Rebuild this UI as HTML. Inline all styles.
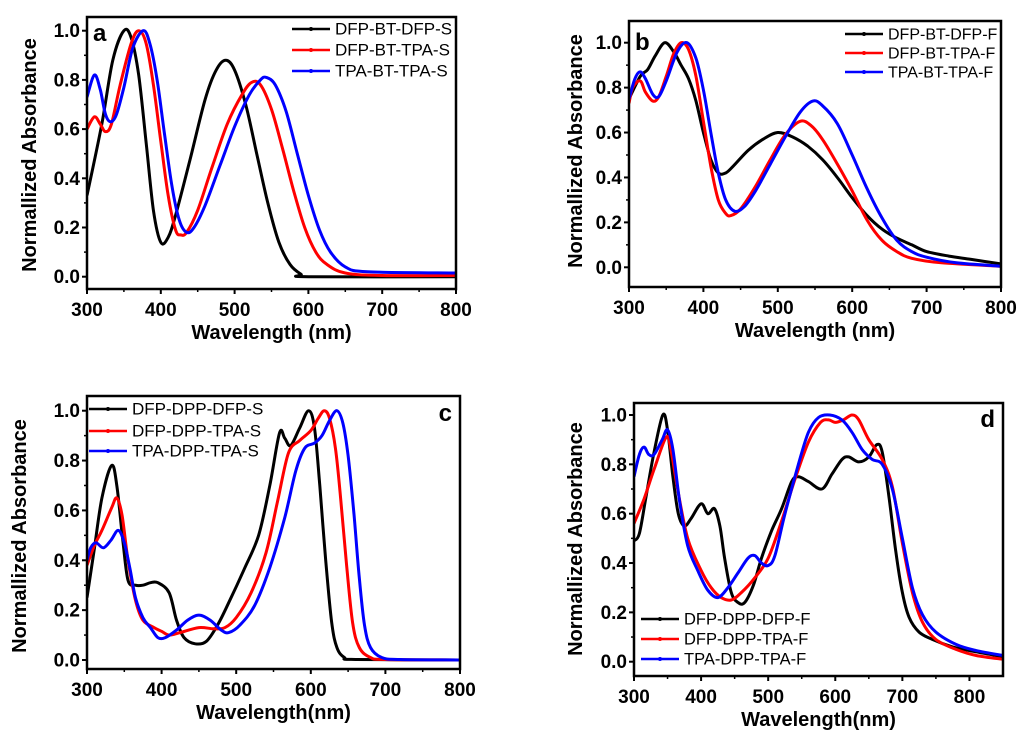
<!DOCTYPE html>
<html><head><meta charset="utf-8"><style>
html,body{margin:0;padding:0;background:#fff;}
svg{display:block;font-family:"Liberation Sans",Arial,sans-serif;}
</style></head><body>
<svg id="fig" width="1024" height="733" viewBox="0 0 1024 733" xmlns="http://www.w3.org/2000/svg"></svg>
<script>
// Panel a data
const aWl_k=[300,320,335,350,360,370,380,390,400,410,420,440,460,475,488,500,515,530,545,560,575,590,600,800];
const aVal_k=[0.33,0.62,0.88,1.0,0.97,0.82,0.55,0.27,0.14,0.16,0.25,0.48,0.72,0.84,0.88,0.84,0.70,0.50,0.30,0.14,0.05,0.01,0.0,0.0];
const aWl_r=[300,310,318,325,333,345,360,370,380,390,400,410,420,427,435,450,470,490,510,523,535,550,565,580,595,610,625,650,700,800];
const aVal_r=[0.60,0.65,0.62,0.59,0.62,0.78,0.95,1.0,0.95,0.78,0.55,0.33,0.19,0.17,0.18,0.27,0.45,0.62,0.74,0.79,0.78,0.68,0.52,0.35,0.20,0.10,0.05,0.015,0.005,0.005];
const aWl_b=[300,310,318,325,332,340,350,362,376,385,395,405,415,425,435,445,460,480,500,520,535,543,555,570,585,600,615,630,650,680,800];
const aVal_b=[0.73,0.82,0.76,0.66,0.63,0.66,0.77,0.93,1.0,0.95,0.80,0.58,0.37,0.23,0.18,0.20,0.29,0.45,0.61,0.74,0.80,0.81,0.78,0.67,0.50,0.33,0.19,0.10,0.04,0.02,0.015];
// Panel b data
const bWl_k=[300,315,325,335,348,360,370,380,390,400,410,420,430,440,460,480,500,520,540,560,580,600,620,640,660,680,700,730,760,800];
const bVal_k=[0.75,0.85,0.88,0.94,1.0,0.96,0.90,0.84,0.74,0.60,0.48,0.42,0.42,0.45,0.52,0.57,0.60,0.58,0.54,0.48,0.40,0.31,0.23,0.17,0.13,0.10,0.07,0.05,0.035,0.015];
const bWl_r=[300,305,315,322,332,340,350,360,370,380,390,400,410,420,430,437,450,470,490,510,530,545,560,580,600,620,640,660,680,720,800];
const bVal_r=[0.73,0.80,0.83,0.78,0.74,0.76,0.85,0.95,1.0,0.97,0.85,0.65,0.45,0.30,0.24,0.23,0.26,0.36,0.48,0.59,0.65,0.63,0.57,0.46,0.34,0.21,0.12,0.07,0.04,0.02,0.005];
const bWl_b=[300,308,315,322,332,340,350,365,378,390,400,410,420,430,442,455,470,490,510,530,547,560,580,600,620,640,660,680,700,740,800];
const bVal_b=[0.75,0.84,0.87,0.84,0.77,0.76,0.83,0.96,1.0,0.93,0.79,0.60,0.42,0.30,0.25,0.27,0.34,0.46,0.58,0.69,0.74,0.72,0.64,0.50,0.35,0.22,0.12,0.07,0.045,0.02,0.005];
// Panel c data
const cWl_k=[300,310,320,333,340,348,355,365,375,385,395,410,420,430,445,460,475,490,510,530,545,558,565,573,585,597,605,612,620,628,635,645,660,800];
const cVal_k=[0.25,0.45,0.65,0.78,0.70,0.48,0.32,0.30,0.30,0.31,0.31,0.27,0.16,0.09,0.065,0.075,0.14,0.23,0.36,0.50,0.70,0.91,0.89,0.86,0.93,1.0,0.93,0.70,0.40,0.15,0.05,0.01,0.002,0.0];
const cWl_r=[300,310,320,333,340,347,355,365,375,390,400,410,425,450,470,485,500,520,540,555,570,585,600,610,618,625,633,640,648,656,665,680,700,800];
const cVal_r=[0.38,0.46,0.52,0.61,0.65,0.58,0.40,0.24,0.16,0.13,0.115,0.10,0.11,0.13,0.125,0.13,0.17,0.27,0.43,0.63,0.83,0.88,0.92,0.97,1.0,0.97,0.85,0.65,0.38,0.15,0.05,0.01,0.002,0.0];
const cWl_b=[300,305,312,322,332,342,350,358,365,375,385,395,405,420,435,450,465,480,490,505,525,545,565,580,592,605,615,625,635,643,650,658,665,672,680,695,720,800];
const cVal_b=[0.40,0.45,0.47,0.45,0.48,0.52,0.47,0.36,0.25,0.17,0.13,0.09,0.09,0.12,0.16,0.18,0.16,0.12,0.11,0.14,0.22,0.37,0.57,0.76,0.85,0.87,0.90,0.96,1.0,0.95,0.82,0.58,0.33,0.14,0.05,0.01,0.002,0.0];
// Panel d data
const dWl_k=[300,308,318,330,343,350,358,366,375,385,400,410,420,428,435,445,455,465,478,490,505,520,535,545,560,580,595,610,620,635,650,662,670,680,690,700,710,725,745,775,810,850];
const dVal_k=[0.49,0.52,0.67,0.85,1.0,0.94,0.75,0.60,0.55,0.58,0.64,0.60,0.62,0.55,0.42,0.28,0.24,0.24,0.31,0.42,0.53,0.62,0.73,0.75,0.73,0.70,0.76,0.82,0.83,0.81,0.83,0.88,0.85,0.67,0.45,0.28,0.18,0.12,0.09,0.06,0.04,0.02];
const dWl_r=[300,315,330,348,355,365,380,400,415,430,445,460,480,500,520,540,560,578,590,600,612,625,635,650,670,685,700,715,730,750,780,810,850];
const dVal_r=[0.56,0.66,0.78,0.91,0.86,0.70,0.50,0.37,0.30,0.26,0.25,0.28,0.34,0.42,0.57,0.74,0.89,0.97,0.98,0.97,0.98,1.0,0.98,0.90,0.82,0.71,0.48,0.28,0.16,0.09,0.05,0.025,0.01];
const dWl_b=[300,308,315,322,330,342,350,358,368,380,395,410,425,440,455,470,480,490,500,510,525,545,560,575,592,610,625,640,655,670,685,700,715,730,750,780,810,850];
const dVal_b=[0.75,0.84,0.87,0.84,0.84,0.90,0.94,0.86,0.65,0.47,0.37,0.29,0.26,0.30,0.36,0.42,0.43,0.40,0.39,0.43,0.60,0.80,0.93,0.99,1.0,0.98,0.93,0.86,0.82,0.80,0.70,0.50,0.30,0.19,0.12,0.07,0.045,0.025];

const yTicks=["0.0","0.2","0.4","0.6","0.8","1.0"];
const xTicksA=["300","400","500","600","700","800"];
const xTicksD=["300","400","500","600","700","800"];
const legA=["DFP-BT-DFP-S","DFP-BT-TPA-S","TPA-BT-TPA-S"];
const legB=["DFP-BT-DFP-F","DFP-BT-TPA-F","TPA-BT-TPA-F"];
const legC=["DFP-DPP-DFP-S","DFP-DPP-TPA-S","TPA-DPP-TPA-S"];
const legD=["DFP-DPP-DFP-F","DFP-DPP-TPA-F","TPA-DPP-TPA-F"];

const NS="http://www.w3.org/2000/svg";
const svg=document.getElementById('fig');
const COLORS=["#000000","#ff0000","#0000ff"];
function mk(tag,attrs,parent){const e=document.createElementNS(NS,tag);for(const k in attrs)e.setAttribute(k,attrs[k]);(parent||svg).appendChild(e);return e;}

function smoothPath(pts){
  let d="M"+pts[0][0].toFixed(1)+","+pts[0][1].toFixed(1);
  for(let i=0;i<pts.length-1;i++){
    const p0=pts[Math.max(0,i-1)],p1=pts[i],p2=pts[i+1],p3=pts[Math.min(pts.length-1,i+2)];
    const c1x=p1[0]+(p2[0]-p0[0])/6,c1y=p1[1]+(p2[1]-p0[1])/6;
    const c2x=p2[0]-(p3[0]-p1[0])/6,c2y=p2[1]-(p3[1]-p1[1])/6;
    d+=" C"+c1x.toFixed(1)+","+c1y.toFixed(1)+" "+c2x.toFixed(1)+","+c2y.toFixed(1)+" "+p2[0].toFixed(1)+","+p2[1].toFixed(1);
  }
  return d;
}

function panel(cfg){
  const g=mk('g',{});
  
  
  const xs=w=>cfg.L+(w-cfg.x0)/(cfg.x1-cfg.x0)*(cfg.R-cfg.L);
  const ys=v=>cfg.y0px-v*(cfg.y0px-cfg.y1px);
  const cp=mk('clipPath',{id:'clip'+cfg.id},g);
  mk('rect',{x:cfg.L,y:cfg.T,width:cfg.R-cfg.L,height:cfg.B-cfg.T},cp);
  cfg.series.forEach((s,i)=>{
    const pts=s.wl.map((w,j)=>[xs(w),ys(s.v[j])]);
    const p=mk('path',{d:smoothPath(pts),fill:'none',stroke:COLORS[i],'stroke-width':3,'stroke-linejoin':'round','clip-path':'url(#clip'+cfg.id+')'},g);
    
    
  });
  const fr=mk('rect',{x:cfg.L,y:cfg.T,width:cfg.R-cfg.L,height:cfg.B-cfg.T,fill:'none',stroke:'#000','stroke-width':2.5},g);
  
  
  const yax=mk('g',{},g);
  
  
  yTicks.forEach(t=>{
    const y=ys(parseFloat(t));
    mk('line',{x1:cfg.L-5,x2:cfg.L,y1:y,y2:y,stroke:'#000','stroke-width':2},yax);
    const tx=mk('text',{x:cfg.L-7,y:y+6.5,'text-anchor':'end','font-size':19,'font-weight':'bold'},yax);
    tx.textContent=t;
    
    
    const ym=ys(parseFloat(t)+0.1);
    if(ym>cfg.T+2) mk('line',{x1:cfg.L-3,x2:cfg.L,y1:ym,y2:ym,stroke:'#000','stroke-width':1.5},yax);
  });
  const ym0=ys(-0.1); if(ym0<cfg.B-2) mk('line',{x1:cfg.L-3,x2:cfg.L,y1:ym0,y2:ym0,stroke:'#000','stroke-width':1.5},yax);
  const xax=mk('g',{},g);
  
  
  cfg.xt.forEach(t=>{
    const x=xs(parseFloat(t));
    mk('line',{x1:x,x2:x,y1:cfg.B,y2:cfg.B+5,stroke:'#000','stroke-width':2},xax);
    const tx=mk('text',{x:x,y:cfg.B+27,'text-anchor':'middle','font-size':19,'font-weight':'bold'},xax);
    tx.textContent=t;
    
    
    const xm=xs(parseFloat(t)+50);
    if(xm<cfg.R-2) mk('line',{x1:xm,x2:xm,y1:cfg.B,y2:cfg.B+3,stroke:'#000','stroke-width':1.5},xax);
  });
  const xt=mk('text',{x:(cfg.L+cfg.R)/2,y:cfg.B+50,'text-anchor':'middle','font-size':20,'font-weight':'bold'},g);
  xt.textContent=cfg.xtitle;
  
  
  const yt=mk('text',{x:0,y:0,'text-anchor':'middle','font-size':20,'font-weight':'bold',transform:'translate('+cfg.ytx+','+cfg.yty+') rotate(-90)'},g);
  yt.textContent='Normallized Absorbance';
  
  
  const lt=mk('text',{x:cfg.lx,y:cfg.ly,'text-anchor':cfg.la,'font-size':24,'font-weight':'bold'},g);
  lt.textContent=cfg.id;
  
  
  const lg=mk('g',{},g);
  
  
  cfg.legend.forEach((name,i)=>{
    const y=cfg.legY[i];
    const e=mk('g',{},lg);
    
    
    mk('line',{x1:cfg.legX,x2:cfg.legX+38,y1:y,y2:y,stroke:COLORS[i],'stroke-width':2.5},e);
    mk('circle',{cx:cfg.legX+19,cy:y,r:2,fill:COLORS[i]},e);
    const t=mk('text',{x:cfg.legX+43,y:y+5.5,'font-size':cfg.lfs},e);
    t.textContent=name;
  });
}

panel({id:'a',L:87,R:456,T:17,B:289,x0:300,x1:800,y0px:276.7,y1px:30.7,xt:xTicksA,xtitle:'Wavelength (nm)',ytx:36,yty:155,lx:93,ly:41,la:'start',legend:legA,legX:292,legY:[29,50,71],lfs:17,
  series:[{wl:aWl_k,v:aVal_k},{wl:aWl_r,v:aVal_r},{wl:aWl_b,v:aVal_b}]});
panel({id:'b',L:629,R:1001,T:21,B:287,x0:300,x1:800,y0px:267.3,y1px:42.7,xt:xTicksA,xtitle:'Wavelength (nm)',ytx:582,yty:151,lx:635,ly:50,la:'start',legend:legB,legX:845,legY:[34,53,72],lfs:16,
  series:[{wl:bWl_k,v:bVal_k},{wl:bWl_r,v:bVal_r},{wl:bWl_b,v:bVal_b}]});
panel({id:'c',L:87,R:460,T:396,B:669,x0:300,x1:800,y0px:660,y1px:410.7,xt:xTicksA,xtitle:'Wavelength(nm)',ytx:26,yty:536,lx:452,ly:421,la:'end',legend:legC,legX:89,legY:[409,431,451],lfs:17,
  series:[{wl:cWl_k,v:cVal_k},{wl:cWl_r,v:cVal_r},{wl:cWl_b,v:cVal_b}]});
panel({id:'d',L:634,R:1003,T:403,B:676,x0:300,x1:850,y0px:661.7,y1px:415,xt:xTicksD,xtitle:'Wavelength(nm)',ytx:582,yty:539,lx:995,ly:427,la:'end',legend:legD,legX:641,legY:[619,639,659],lfs:16.5,
  series:[{wl:dWl_k,v:dVal_k},{wl:dWl_r,v:dVal_r},{wl:dWl_b,v:dVal_b}]});
</script>
</body></html>
